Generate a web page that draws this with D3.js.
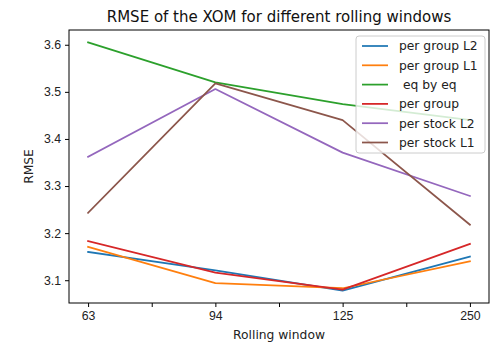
<!DOCTYPE html>
<html>
<head>
<meta charset="utf-8">
<script src="https://cdn.jsdelivr.net/npm/d3@7"></script>
<style>
  html, body { margin: 0; padding: 0; background: #fff; }
  svg { display: block; font-family: "DejaVu Sans", sans-serif; }
</style>
</head>
<body>
<svg id="chart" width="492" height="344"></svg>
<script>
// Rolling window sizes on the categorical x axis
const windows = ["63", "94", "125", "250"];

// RMSE per model for each rolling window
const perGroupL2 = [3.160, 3.121, 3.078, 3.150];
const perGroupL1 = [3.171, 3.094, 3.083, 3.140];
const eqByEq     = [3.605, 3.520, 3.474, 3.440];
const perGroup   = [3.183, 3.116, 3.080, 3.177];
const perStockL2 = [3.362, 3.506, 3.371, 3.279];
const perStockL1 = [3.243, 3.518, 3.440, 3.218];

const seriesNames = ["per group L2", "per group L1", " eq by eq", "per group", "per stock L2", "per stock L1"];
const seriesColors = ["#1f77b4", "#ff7f0e", "#2ca02c", "#d62728", "#9467bd", "#8c564b"];
const seriesValues = [perGroupL2, perGroupL1, eqByEq, perGroup, perStockL2, perStockL1];

const yTicks = [3.1, 3.2, 3.3, 3.4, 3.5, 3.6];
const xTickPositions = [0, 0.5, 1, 1.5, 2, 2.5, 3];

const plot = { left: 69, right: 489, top: 30, bottom: 303 };
const labelSize = "12.3px";

const svg = d3.select("#chart");

// Axis ranges with 5% padding around the data
const allVals = seriesValues.flat();
const yMin = d3.min(allVals), yMax = d3.max(allVals);
const yPad = (yMax - yMin) * 0.05;
const n = windows.length - 1;

const x = d3.scaleLinear().domain([-0.05 * n, n + 0.05 * n]).range([plot.left, plot.right]);
const y = d3.scaleLinear().domain([yMin - yPad, yMax + yPad]).range([plot.bottom, plot.top]);

// Lines
const line = d3.line().x((d, i) => x(i)).y(d => y(d));
const linesG = svg.append("g");
seriesValues.forEach((vals, k) => {
  linesG.append("path")
    .datum(vals)
    .attr("d", line)
    .attr("fill", "none")
    .attr("stroke", seriesColors[k])
    .attr("stroke-width", 1.75)
    .attr("stroke-linejoin", "round")
    .attr("stroke-linecap", "square");
});

// Axes
const xAxis = d3.axisBottom(x)
  .tickValues(xTickPositions)
  .tickFormat(d => Number.isInteger(d) ? windows[d] : "")
  .tickSize(4).tickPadding(4);
const yAxis = d3.axisLeft(y)
  .tickValues(yTicks)
  .tickFormat(d3.format(".1f"))
  .tickSize(4).tickPadding(4);

const gx = svg.append("g").attr("transform", `translate(0,${plot.bottom})`).call(xAxis);
const gy = svg.append("g").attr("transform", `translate(${plot.left},0)`).call(yAxis);
[gx, gy].forEach(g => {
  g.select(".domain").remove();
  g.selectAll(".tick line").attr("stroke", "#000").attr("stroke-width", 1);
  g.selectAll(".tick text").attr("fill", "#222").style("font-size", labelSize);
});

// Frame around the plotting area
svg.append("rect")
  .attr("x", plot.left).attr("y", plot.top)
  .attr("width", plot.right - plot.left).attr("height", plot.bottom - plot.top)
  .attr("fill", "none").attr("stroke", "#000").attr("stroke-width", 1);

// Title and axis labels
svg.append("text")
  .attr("x", (plot.left + plot.right) / 2).attr("y", 22)
  .attr("text-anchor", "middle")
  .style("font-size", "15px").attr("fill", "#111")
  .text("RMSE of the XOM for different rolling windows");

svg.append("text")
  .attr("x", (plot.left + plot.right) / 2).attr("y", 339)
  .attr("text-anchor", "middle")
  .style("font-size", labelSize).attr("fill", "#222")
  .text("Rolling window");

svg.append("text")
  .attr("transform", `translate(33,${(plot.top + plot.bottom) / 2}) rotate(-90)`)
  .attr("text-anchor", "middle")
  .style("font-size", labelSize).attr("fill", "#222")
  .text("RMSE");

// Legend
const legend = svg.append("g").attr("transform", "translate(356,36)");
legend.append("rect")
  .attr("width", 129).attr("height", 117)
  .attr("rx", 3)
  .attr("fill", "#fff").attr("fill-opacity", 0.8)
  .attr("stroke", "#ccc").attr("stroke-width", 1);
seriesNames.forEach((name, k) => {
  const row = legend.append("g").attr("transform", `translate(0,${10 + k * 19.3})`);
  row.append("line")
    .attr("x1", 6).attr("x2", 32)
    .attr("stroke", seriesColors[k]).attr("stroke-width", 1.75);
  row.append("text")
    .attr("x", 43).attr("dy", "0.35em")
    .style("font-size", labelSize).style("white-space", "pre").attr("fill", "#222")
    .attr("xml:space", "preserve")
    .text(name);
});
</script>
</body>
</html>
